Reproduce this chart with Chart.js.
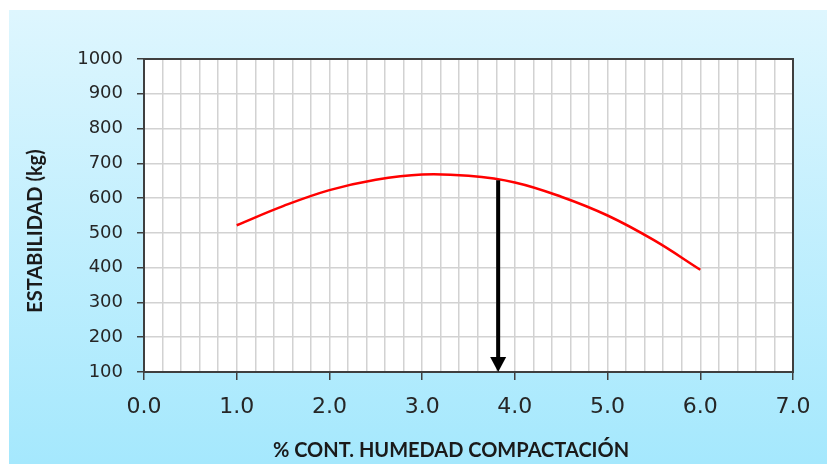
<!DOCTYPE html>
<html>
<head>
    <meta charset="UTF-8">
    <title>Estabilidad vs Humedad</title>
    <script src="https://cdn.jsdelivr.net/npm/chart.js"></script>
    <style>
        body {
            margin: 0;
            padding: 0;
            background-color: white;
        }
        #wrap {
            width: 827px;
            height: 464px;
        }
    </style>
</head>
<body>
    <div id="wrap"><canvas id="myChart" width="827" height="464"></canvas></div>

    <script>
        // datos
        const humedad = [1.0, 1.5, 2.0, 2.5, 3.0, 3.5, 4.0, 4.5, 5.0, 5.5, 6.0];
        const estabilidad = [522, 577, 623, 653, 668, 664, 645, 604, 550, 479, 394];
        const flechaX = [3.82, 3.82];
        const flechaY = [651, 100];
        const yTicks = [100, 200, 300, 400, 500, 600, 700, 800, 900, 1000];
        const xTicks = [0, 1, 2, 3, 4, 5, 6, 7];

        const esEntero = v => Math.abs(v - Math.round(v)) < 1e-6;

        const fondo = {
            id: 'fondo',
            beforeDraw(chart) {
                const ctx = chart.ctx;
                ctx.save();
                ctx.fillStyle = 'white';
                ctx.fillRect(0, 0, chart.width, chart.height);
                const g = ctx.createLinearGradient(0, 10, 0, chart.height);
                g.addColorStop(0, '#def6fe');
                g.addColorStop(1, '#a5e8fd');
                ctx.fillStyle = g;
                ctx.fillRect(9, 10, chart.width - 9, chart.height - 10);
                const a = chart.chartArea;
                ctx.fillStyle = 'white';
                ctx.fillRect(a.left, a.top, a.right - a.left, a.bottom - a.top);
                ctx.restore();
            },
            afterDatasetsDraw(chart) {
                const ctx = chart.ctx;
                const a = chart.chartArea;
                const xs = chart.scales.x, ys = chart.scales.y;
                ctx.save();
                // marco
                ctx.strokeStyle = '#3f3f3f';
                ctx.lineWidth = 2;
                ctx.strokeRect(a.left, a.top, a.right - a.left, a.bottom - a.top);
                // flecha
                const px = xs.getPixelForValue(flechaX[0]);
                const py0 = ys.getPixelForValue(flechaY[0]);
                const py1 = ys.getPixelForValue(flechaY[1]);
                ctx.strokeStyle = 'black';
                ctx.lineWidth = 4;
                ctx.beginPath();
                ctx.moveTo(px, py0);
                ctx.lineTo(px, py1 - 12);
                ctx.stroke();
                ctx.fillStyle = 'black';
                ctx.beginPath();
                ctx.moveTo(px, py1);
                ctx.lineTo(px - 8, py1 - 15);
                ctx.lineTo(px + 8, py1 - 15);
                ctx.closePath();
                ctx.fill();
                // titulos de ejes
                ctx.fillStyle = '#1a1a1a';
                ctx.font = 'bold 20px Lato';
                ctx.textAlign = 'center';
                ctx.textBaseline = 'middle';
                ctx.fillText('% CONT. HUMEDAD COMPACTACIÓN', 451, 451);
                ctx.translate(36, 231);
                ctx.rotate(-Math.PI / 2);
                ctx.fillText('ESTABILIDAD (kg)', 0, 0);
                ctx.restore();
            }
        };

        const ctx = document.getElementById('myChart').getContext('2d');
        const chart = new Chart(ctx, {
            type: 'scatter',
            data: {
                datasets: [{
                    label: 'Estabilidad',
                    data: humedad.map((h, i) => ({ x: h, y: estabilidad[i] })),
                    showLine: true,
                    borderColor: '#ff0000',
                    borderWidth: 2.5,
                    pointRadius: 0,
                    tension: 0.4
                }]
            },
            plugins: [fondo],
            options: {
                responsive: false,
                animation: false,
                layout: {
                    padding: { top: 59, right: 34, left: 0, bottom: 0 }
                },
                plugins: {
                    legend: { display: false },
                    tooltip: { enabled: false }
                },
                scales: {
                    x: {
                        type: 'linear',
                        min: xTicks[0],
                        max: xTicks[xTicks.length - 1],
                        afterFit: s => { s.height = 92; },
                        border: { display: false },
                        grid: {
                            color: '#d2d2d2',
                            lineWidth: 1.5,
                            tickLength: 8,
                            tickColor: c => (c.tick && esEntero(c.tick.value)) ? '#3f3f3f' : 'rgba(0,0,0,0)',
                            tickWidth: 1.5
                        },
                        ticks: {
                            stepSize: 0.2,
                            autoSkip: false,
                            maxRotation: 0,
                            padding: 14,
                            color: '#262626',
                            font: { family: 'DejaVu Sans', size: 22 },
                            callback: v => esEntero(v) ? v.toFixed(1) : ''
                        }
                    },
                    y: {
                        min: yTicks[0],
                        max: yTicks[yTicks.length - 1],
                        afterFit: s => { s.width = 144; },
                        border: { display: false },
                        grid: {
                            color: '#d2d2d2',
                            lineWidth: 1.5,
                            tickLength: 7,
                            tickColor: '#3f3f3f',
                            tickWidth: 1.5
                        },
                        ticks: {
                            stepSize: 100,
                            padding: 14,
                            color: '#262626',
                            font: { family: 'DejaVu Sans', size: 18 },
                            callback: v => String(v)
                        }
                    }
                }
            }
        });
    </script>
</body>
</html>
